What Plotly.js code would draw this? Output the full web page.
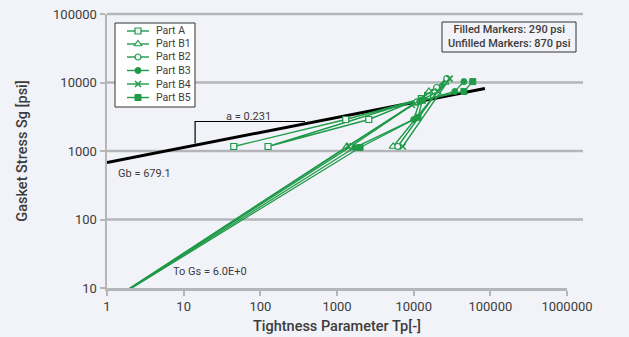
<!DOCTYPE html>
<html><head><meta charset="utf-8">
<script src="https://cdn.plot.ly/plotly-3.0.1.min.js"></script>
<style>html,body{margin:0;padding:0;background:#f2f3f8;}</style>
</head><body><div id="chart" style="width:629px;height:337px;"></div>
<script>
// ---- data ----
const seriesNames = ["Part A", "Part B1", "Part B2", "Part B3", "Part B4", "Part B5"];
const partA_Tp  = [45, 1300, 12600, 126, 2600, 15200];
const partA_Sg  = [1164, 2884, 5800, 1164, 2884, 6450];
const partB1_Tp = [1, 1350, 10500, 15800, 25600, 5400];
const partB1_Sg = [6, 1164, 5000, 7400, 10000, 1164];
const partB2_Tp = [1, 1520, 11000, 19900, 27000, 6200];
const partB2_Sg = [6, 1164, 5200, 8450, 11400, 1164];
const partB3_Tp = [1, 1700, 10000, 12000, 34400, 45200];
const partB3_Sg = [6, 1125, 2884, 5300, 7400, 10300];
const partB4_Tp = [1, 1420, 9500, 21000, 29500, 7200];
const partB4_Sg = [6, 1164, 4700, 7400, 11400, 1164];
const partB5_Tp = [1, 2000, 11400, 13000, 45200, 59000];
const partB5_Sg = [6, 1125, 3100, 5500, 7400, 10300];
const fitTp = [1, 85000];
const fitSg = [679.1, 8170];
const slopeTp = [14.1, 14.1, 383];
const slopeSg = [1290, 2697, 2697];
const xTickVals = [1, 10, 100, 1000, 10000, 100000, 1000000];
const xTickText = ["1", "10", "100", "1000", "10000", "100000", "1000000"];
const yTickVals = [10, 100, 1000, 10000, 100000];
const yTickText = ["10", "100", "1000", "10000", "100000"];

// ---- style ----
const green = "#1f9a48", bg = "#f2f3f8", txt = "#3c3c3c", grid = "#b5b6ba";
const FONT = "Roboto, 'Open Sans', sans-serif";
const PL = 107, PR = 567, PT = 14, PB = 288; // plot area pixels
const px = v => (v - PL) / (PR - PL);
const py = v => (PB - v) / (PB - PT);

const xs = [partA_Tp, partB1_Tp, partB2_Tp, partB3_Tp, partB4_Tp, partB5_Tp];
const ys = [partA_Sg, partB1_Sg, partB2_Sg, partB3_Sg, partB4_Sg, partB5_Sg];
const markers = [
  {symbol: "square", size: 6, color: bg, line: {color: green, width: 1.2}},
  {symbol: "triangle-up", size: 7, color: bg, line: {color: green, width: 1.2}},
  {symbol: "circle", size: 6, color: bg, line: {color: green, width: 1.2}},
  {symbol: "circle", size: 6, color: green, line: {color: green, width: 1}},
  {symbol: "x-thin", size: 6, color: green, line: {color: green, width: 1.5}},
  {symbol: "square", size: 6, color: green, line: {color: green, width: 1}}
];

const traces = [];
traces.push({x: fitTp, y: fitSg, mode: "lines", line: {color: "#000", width: 3}, hoverinfo: "skip"});
traces.push({x: slopeTp, y: slopeSg, mode: "lines", line: {color: "#000", width: 1.2}, hoverinfo: "skip"});
for (let i = 0; i < 6; i++) {
  traces.push({x: xs[i], y: ys[i], mode: "lines+markers", name: seriesNames[i],
    line: {color: green, width: 1.4}, marker: markers[i]});
}
// custom legend samples on a pixel overlay axis
const legY = [31, 44, 57, 70.5, 84, 97.5];
for (let i = 0; i < 6; i++) {
  traces.push({x: [127, 149], y: [legY[i], legY[i]], xaxis: "x2", yaxis: "y2", mode: "lines",
    line: {color: green, width: 1.4}, hoverinfo: "skip"});
  traces.push({x: [138], y: [legY[i]], xaxis: "x2", yaxis: "y2", mode: "markers",
    marker: markers[i], hoverinfo: "skip"});
}

const shapes = [];
for (let k = 1; k <= 4; k++) {
  shapes.push({type: "line", xref: "paper", yref: "paper", x0: 0, x1: px(583), y0: k / 4, y1: k / 4,
    line: {color: grid, width: 2.5}, layer: "below"});
}
shapes.push({type: "rect", xref: "paper", yref: "paper", x0: px(115), x1: px(195), y0: py(107), y1: py(23),
  fillcolor: "#ffffff", line: {color: "#333", width: 1}, layer: "below"});
shapes.push({type: "rect", xref: "paper", yref: "paper", x0: px(442), x1: px(576), y0: py(52), y1: py(22),
  fillcolor: bg, line: {color: "#333", width: 1}, layer: "below"});

const ann = [];
const af = (s, w) => ({family: FONT, size: s, color: txt, weight: w || 400});
ann.push({xref: "paper", yref: "paper", x: px(248), y: py(116), text: "a = 0.231", showarrow: false,
  xanchor: "center", yanchor: "middle", font: af(11)});
ann.push({xref: "paper", yref: "paper", x: px(116), y: py(173), text: "Gb = 679.1", showarrow: false,
  xanchor: "left", yanchor: "middle", font: af(11)});
ann.push({xref: "paper", yref: "paper", x: px(171), y: py(271), text: "To Gs = 6.0E+0", showarrow: false,
  xanchor: "left", yanchor: "middle", font: af(11)});
ann.push({xref: "paper", yref: "paper", x: px(509), y: py(37), text: "Filled Markers: 290 psi<br>Unfilled Markers: 870 psi",
  showarrow: false, xanchor: "center", yanchor: "middle", align: "center", font: af(11, 500)});
for (let i = 0; i < 6; i++) {
  ann.push({xref: "paper", yref: "paper", x: px(154), y: py(legY[i]), text: seriesNames[i], showarrow: false,
    xanchor: "left", yanchor: "middle", font: af(10.5)});
}

const layout = {
  width: 629, height: 337,
  margin: {l: PL, r: 629 - PR, t: PT, b: 337 - PB, pad: 0},
  paper_bgcolor: bg, plot_bgcolor: bg,
  showlegend: false,
  font: {family: FONT, color: txt, size: 13},
  xaxis: {type: "log", range: [0, 6], tickvals: xTickVals, ticktext: xTickText,
    showgrid: false, zeroline: false, showline: true, linecolor: grid, linewidth: 2.5,
    ticks: "outside", ticklen: 5, tickwidth: 2, tickcolor: grid,
    tickfont: {family: FONT, size: 13, color: txt},
    title: {text: "Tightness Parameter Tp[-]", font: {family: FONT, size: 14.5, color: txt, weight: 500}, standoff: 8}},
  yaxis: {type: "log", range: [1, 5], tickvals: yTickVals, ticktext: yTickText,
    showgrid: false, zeroline: false, showline: true, linecolor: grid, linewidth: 2.5,
    ticks: "outside", ticklen: 5, tickwidth: 2, tickcolor: grid,
    tickfont: {family: FONT, size: 13, color: txt},
    title: {text: "Gasket Stress Sg [psi]", font: {family: FONT, size: 14.5, color: txt, weight: 500}, standoff: 22}},
  xaxis2: {overlaying: "x", anchor: "y2", range: [PL, PR], visible: false},
  yaxis2: {overlaying: "y", anchor: "x2", range: [PB, PT], visible: false},
  shapes: shapes, annotations: ann
};
Plotly.newPlot("chart", traces, layout, {staticPlot: true, displayModeBar: false});
</script></body></html>
